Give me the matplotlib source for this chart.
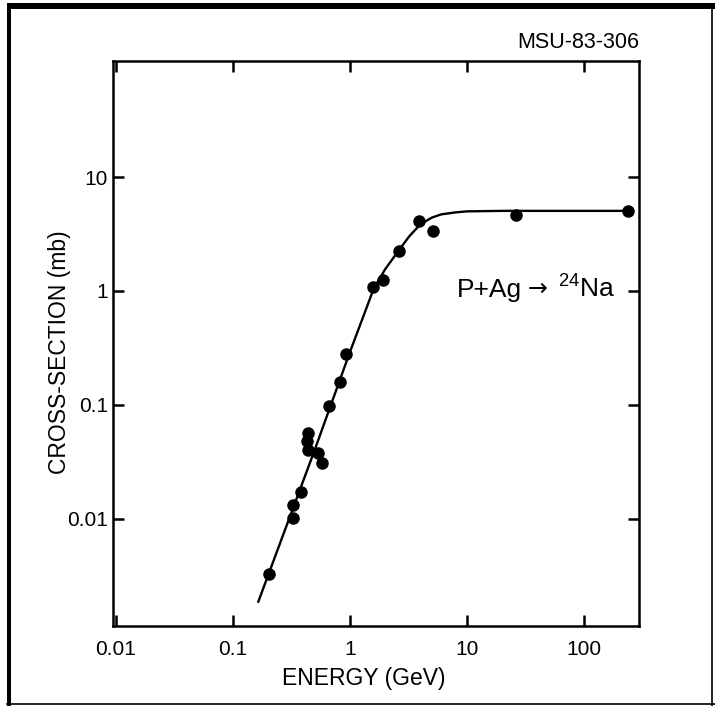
import numpy as np
import matplotlib.pyplot as plt
from matplotlib.lines import Line2D
from matplotlib.patches import Rectangle

plt.rcParams['font.family'] = ['Liberation Sans', 'DejaVu Sans']
plt.rcParams['mathtext.fontset'] = 'custom'
plt.rcParams['mathtext.rm'] = 'Liberation Sans'

# measured cross sections, P + Ag -> 24Na
energy = [0.203, 0.326, 0.326, 0.381, 0.429, 0.438, 0.438, 0.532, 0.576,
          0.66, 0.82, 0.92, 1.58, 1.90, 2.62, 3.91, 5.09, 26.2, 236]
xsec = [0.00326, 0.0101, 0.0132, 0.0171, 0.048, 0.0565, 0.040, 0.0377, 0.0308,
        0.097, 0.159, 0.279, 1.08, 1.24, 2.25, 4.12, 3.37, 4.65, 5.05]

# fitted excitation function
curve_energy = [0.165, 0.5, 1.0, 1.6, 2.0, 2.6, 3.2, 4.0, 5.0, 6.0, 8.0, 10, 20, 236]
curve_xsec = [0.00186, 0.040, 0.29, 1.05, 1.55, 2.25, 3.0, 3.85, 4.4, 4.7, 4.9, 5.0, 5.05, 5.05]

xticks = [0.01, 0.1, 1, 10, 100]
xticklabels = ['0.01', '0.1', '1', '10', '100']
yticks = [0.01, 0.1, 1, 10]
yticklabels = ['0.01', '0.1', '1', '10']

fig = plt.figure(figsize=(7.15, 7.06), dpi=100)
ax = fig.add_axes([0.1587, 0.1133, 0.7350, 0.8003])

ax.plot(curve_energy, curve_xsec, color='black', lw=1.7, zorder=2)
ax.plot(energy, xsec, 'o', color='black', ms=8, zorder=3)

ax.set_xscale('log')
ax.set_yscale('log')
ax.set_xlim(10**-2.02, 10**2.47)
ax.set_ylim(10**-2.944, 10**2.02)

ax.set_xticks(xticks)
ax.set_xticklabels(xticklabels)
ax.set_yticks(yticks)
ax.set_yticklabels(yticklabels)
ax.minorticks_off()
ax.tick_params(direction='in', length=8, width=1.8, top=True, right=True,
               labelsize=15)
ax.tick_params(axis='x', pad=10)
ax.tick_params(axis='y', pad=4)
for s in ax.spines.values():
    s.set_linewidth(1.8)

ax.set_xlabel('ENERGY (GeV)', fontsize=16.5)
ax.set_ylabel('CROSS-SECTION (mb)', fontsize=16.5)
ax.xaxis.set_label_coords(0.477, -0.072)
ax.yaxis.set_label_coords(-0.081, 0.485)

# reaction label: P+Ag -> 24Na
lx, ly = 8.17, 0.885
ax.annotate('P+Ag', (lx, ly), xytext=(0, 0), textcoords='offset points',
            fontsize=19, ha='left', va='baseline')
ax.annotate('\u2192', (lx, ly), xytext=(51, 1), textcoords='offset points',
            fontsize=17, family='DejaVu Sans', ha='left', va='baseline')
ax.annotate('$^{24}$Na', (lx, ly), xytext=(73, 0), textcoords='offset points',
            fontsize=19, ha='left', va='baseline')

ax.text(1.0, 1.014, 'MSU-83-306', transform=ax.transAxes, fontsize=15.5,
        ha='right', va='bottom')

# outer frame
fig.add_artist(Rectangle((0.0098, 0.9873), 0.99, 0.0085, transform=fig.transFigure,
                         color='black', lw=0))
fig.add_artist(Rectangle((0.0098, 0.0), 0.0056, 0.995, transform=fig.transFigure,
                         color='black', lw=0))
fig.add_artist(Line2D([0.0098, 1.0], [0.0025, 0.0025], transform=fig.transFigure,
                      color='black', lw=1.2))
fig.add_artist(Line2D([0.9965, 0.9965], [0.0, 0.995], transform=fig.transFigure,
                      color='black', lw=1.2))

fig.savefig('out.png', dpi=100)
